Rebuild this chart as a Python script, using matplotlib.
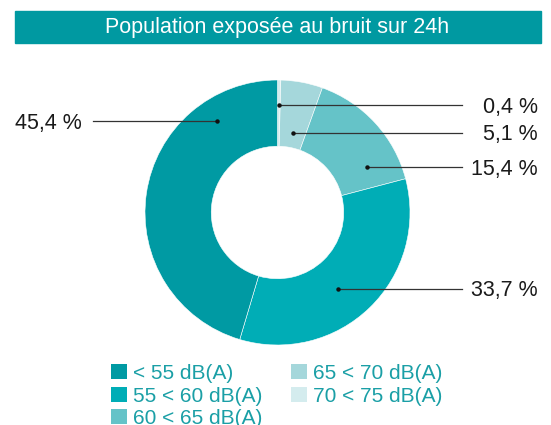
import matplotlib
matplotlib.use("Agg")
import matplotlib.pyplot as plt
from matplotlib.patches import Rectangle, Patch

plt.rcParams['font.family'] = ['Liberation Sans', 'DejaVu Sans']

# data (clockwise from 12 o'clock)
categories = ['70 < 75 dB(A)', '65 < 70 dB(A)', '60 < 65 dB(A)', '55 < 60 dB(A)', '< 55 dB(A)']
values = [0.4, 5.1, 15.4, 33.7, 45.4]
value_labels = ['0,4 %', '5,1 %', '15,4 %', '33,7 %', '45,4 %']
colors = ['#d4ecee', '#a5d7db', '#65c3c8', '#00adb6', '#009aa3']
legend_order = ['< 55 dB(A)', '55 < 60 dB(A)', '60 < 65 dB(A)', '65 < 70 dB(A)', '70 < 75 dB(A)']
title = 'Population exposée au bruit sur 24h'

# annotation layout (pie data units: radius = 1)
anchor_x = [0.011, 0.117, 0.675, 0.457, -0.457]
line_y = [0.811, 0.60, 0.343, -0.577, 0.687]
side = [1, 1, 1, 1, -1]

W, H = 551, 425
fig = plt.figure(figsize=(W / 100, H / 100), dpi=100)

# title bar
fig.patches.append(Rectangle((15 / W, 1 - 43 / H), 526 / W, 32 / H,
                             transform=fig.transFigure, color='#0099a1', zorder=0))
fig.text(277 / W, 1 - 27 / H, title, color='white', fontsize=15.5,
         ha='center', va='center')

cx, cy, r = 277.5, 212.5, 132.5
ax = fig.add_axes([(cx - r) / W, 1 - (cy + r) / H, 2 * r / W, 2 * r / H])
ax.pie(values, colors=colors, startangle=90, counterclock=False, radius=1,
       wedgeprops=dict(width=0.5, edgecolor='white', linewidth=0.4))
ax.set_xlim(-1, 1)
ax.set_ylim(-1, 1)
ax.set_aspect('equal')
ax.axis('off')

for lab, x0, y0, s in zip(value_labels, anchor_x, line_y, side):
    x_end = s * 1.392
    ax.plot([x0, x_end], [y0, y0], color='#333333', lw=0.9, clip_on=False)
    ax.plot([x0], [y0], 'o', color='#111111', ms=2.2, clip_on=False)
    ty = y0 - 0.015
    if s > 0:
        ax.text(1.966, ty, lab, ha='right', va='center', fontsize=15.5,
                color='#1a1a1a', clip_on=False)
    else:
        ax.text(-1.981, ty, lab, ha='left', va='center', fontsize=15.5,
                color='#1a1a1a', clip_on=False)

handles = [Patch(facecolor=colors[categories.index(c)], label=c) for c in legend_order]
leg = fig.legend(handles=handles, ncol=2, loc='upper left',
                 bbox_to_anchor=(111 / W, 1 - 364 / H), frameon=False,
                 fontsize=15, handlelength=0.75, handleheight=0.75,
                 handletextpad=0.3, labelspacing=0.17, columnspacing=1.4,
                 borderaxespad=0, borderpad=0)
for t in leg.get_texts():
    t.set_color('#1a9fa6')

fig.savefig('out.png', dpi=100)
